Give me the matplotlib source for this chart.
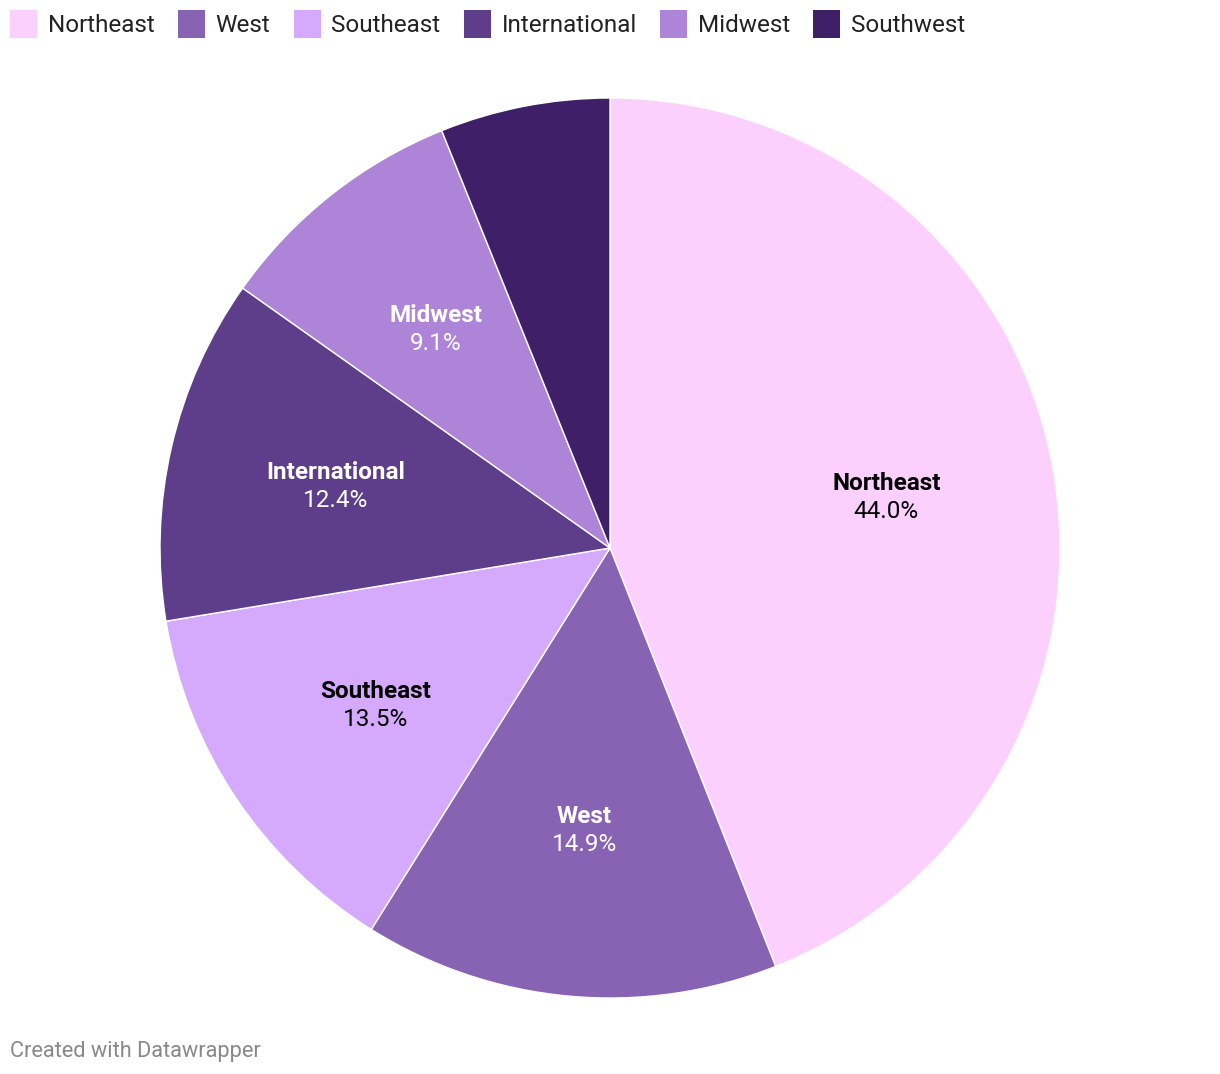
import numpy as np
import matplotlib.pyplot as plt
from matplotlib.patches import Rectangle

regions = ['Northeast', 'West', 'Southeast', 'International', 'Midwest', 'Southwest']
shares = [44.0, 14.9, 13.5, 12.4, 9.1, 6.1]
colors = ['#fbd0fd', '#8862b3', '#d5aafd', '#5e3e8a', '#ae84d8', '#3f1f68']
label_colors = ['#000000', '#ffffff', '#000000', '#ffffff', '#ffffff', '#ffffff']
show_label = [True, True, True, True, True, False]

plt.rcParams['font.family'] = ['Roboto', 'DejaVu Sans']

W, H = 1220, 1074
fig = plt.figure(figsize=(W / 100, H / 100), dpi=100)

# pie: center (610, 548), radius 450 px
cx, cy, r = 610, 548, 450
ax = fig.add_axes([(cx - r) / W, (H - cy - r) / H, 2 * r / W, 2 * r / H])
wedges, _ = ax.pie(shares, colors=colors, startangle=90, counterclock=False,
                   radius=1, wedgeprops=dict(edgecolor='white', linewidth=1))
ax.set_xlim(-1, 1)
ax.set_ylim(-1, 1)
ax.set_aspect('equal')
ax.axis('off')

# labels inside wedges
cum = 0
off = 14 / r
dy = -2 / r
for name, val, lc, show in zip(regions, shares, label_colors, show_label):
    mid = np.deg2rad(90 - (cum + val / 2) * 3.6)
    cum += val
    if not show:
        continue
    x, y = 0.625 * np.cos(mid), 0.625 * np.sin(mid) + dy
    ax.text(x, y + off, name, ha='center', va='center', fontsize=17.5,
            fontweight='bold', color=lc)
    ax.text(x, y - off, f'{val:.1f}%', ha='center', va='center', fontsize=17.5,
            color=lc)

# legend along the top
fig.canvas.draw()
renderer = fig.canvas.get_renderer()
x = 10
for name, c in zip(regions, colors):
    fig.patches.append(Rectangle((x / W, 1 - 38 / H), 27 / W, 28 / H,
                                 transform=fig.transFigure, facecolor=c,
                                 edgecolor='none'))
    t = fig.text((x + 38) / W, 1 - 25.5 / H, name, ha='left', va='center',
                 fontsize=17.5, color='#222222')
    bb = t.get_window_extent(renderer)
    x = x + 38 + bb.width + 23

fig.text(10 / W, 1 - 1051 / H, 'Created with Datawrapper', ha='left',
         va='center', fontsize=15.7, color='#888888')

fig.savefig('out.png', dpi=100, facecolor='white')
